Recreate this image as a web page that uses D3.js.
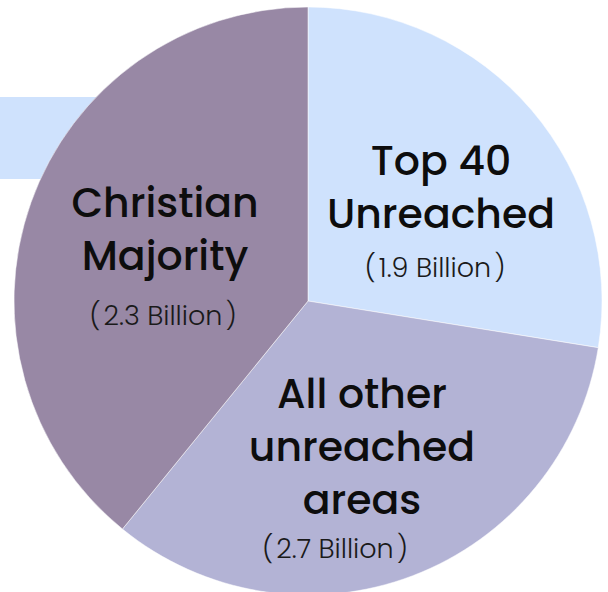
<!DOCTYPE html>
<html>
<head>
<meta charset="utf-8">
<script src="https://cdn.jsdelivr.net/npm/d3@7"></script>
<style>
  body { margin: 0; background: #fff; }
  svg { display: block; }
</style>
</head>
<body>
<div id="chart"></div>
<script>
// slice sizes as drawn (clockwise from 12 o'clock), in billions
var groups = ["Top 40 Unreached", "All other unreached areas", "Christian Majority"];
var values = [1.9, 2.3, 2.7];
var amountLabels = ["1.9 Billion", "2.7 Billion", "2.3 Billion"];
var titleLines = [["Top 40", "Unreached"], ["All other", "unreached", "areas"], ["Christian", "Majority"]];
var colors = ["#cfe2fd", "#b3b3d5", "#9888a5"];

var svgWidth = 608;
var svgHeight = 592;
var cx = 308, cy = 301, radius = 294;

var svg = d3.select("#chart")
  .append("svg")
  .attr("width", svgWidth)
  .attr("height", svgHeight);

// light band behind the pie on the left
svg.append("rect")
  .attr("x", 0)
  .attr("y", 97)
  .attr("width", 200)
  .attr("height", 82)
  .attr("fill", colors[0]);

var pie = d3.pie().sort(null).value(d => d);
var arc = d3.arc().innerRadius(0).outerRadius(radius);

var g = svg.append("g")
  .attr("transform", `translate(${cx}, ${cy})`);

g.selectAll("path")
  .data(pie(values))
  .enter()
  .append("path")
  .attr("d", arc)
  .attr("fill", (d, i) => colors[i])
  .attr("stroke", "#ffffff")
  .attr("stroke-opacity", 0.5)
  .attr("stroke-width", 1);

// label anchors (centre x, first baseline y) relative to the page
var labelPos = [
  { x: 441, y: 175, sub: { x: 435, y: 277 } },
  { x: 362, y: 408, sub: { x: 335, y: 558 } },
  { x: 165, y: 217, sub: { x: 163, y: 325 } }
];
var lineGap = 53;

var font = "Poppins, Inter, 'Open Sans', sans-serif";

groups.forEach(function(name, i) {
  var p = labelPos[i];
  titleLines[i].forEach(function(line, j) {
    svg.append("text")
      .attr("x", p.x)
      .attr("y", p.y + j * lineGap)
      .attr("text-anchor", "middle")
      .style("font-family", font)
      .style("font-size", "41px")
      .style("font-weight", 500)
      .style("fill", "#0d0d0d")
      .text(line);
  });
  var sub = svg.append("text")
    .attr("x", p.sub.x)
    .attr("y", p.sub.y)
    .attr("text-anchor", "middle")
    .style("font-family", font)
    .style("font-size", "27px")
    .style("font-weight", 300)
    .style("fill", "#1a1a1a");
  sub.append("tspan").text("(");
  sub.append("tspan").attr("dx", 3).text(amountLabels[i]);
  sub.append("tspan").attr("dx", 3).text(")");
});
</script>
</body>
</html>
